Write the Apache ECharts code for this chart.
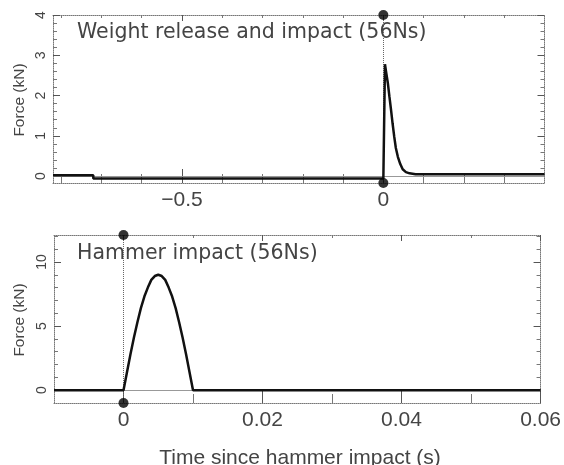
<!DOCTYPE html>
<html><head><meta charset="utf-8">
<script src="https://cdn.jsdelivr.net/npm/echarts@6/dist/echarts.min.js"></script>
<style>html,body{margin:0;padding:0;background:#fff}#c{width:564px;height:465px}</style>
</head><body><div id="c"></div>
<script>
// ---- Top panel: weight release and impact ----
const topTime  = [-0.82, -0.72, -0.72, 0, 0.004, 0.0066, 0.011, 0.015, 0.019, 0.023, 0.027, 0.031, 0.036, 0.042, 0.048, 0.056, 0.065, 0.08, 0.4];
const topForce = [0.02, 0.02, -0.06, -0.06, 2.78, 2.6, 2.32, 1.98, 1.65, 1.3, 0.98, 0.7, 0.48, 0.3, 0.17, 0.1, 0.07, 0.05, 0.05];
const topXTicks = [-0.5, 0];
const topYTicks = [0, 1, 2, 3, 4];
const topMarkers = [[0, 4], [0, -0.17]];

// ---- Bottom panel: hammer impact ----
const botTime  = [-0.01, 0, 0.0005, 0.001, 0.0015, 0.002, 0.0025, 0.003, 0.0035, 0.004, 0.0045, 0.005,
                  0.0055, 0.006, 0.0065, 0.007, 0.0075, 0.008, 0.0085, 0.009, 0.0095, 0.01, 0.06];
const botForce = [0, 0, 1.4, 2.8, 4.1, 5.3, 6.4, 7.3, 8.0, 8.6, 8.9, 9.0,
                  8.9, 8.6, 8.0, 7.3, 6.4, 5.3, 4.1, 2.8, 1.4, 0, 0];
const botXTicks = [0, 0.02, 0.04, 0.06];
const botYTicks = [0, 5, 10];
const botMarkers = [[0, 12.1], [0, -1]];

const titles = ['Weight release and impact (56Ns)', 'Hammer impact (56Ns)'];
const xName = 'Time since hammer impact (s)';
const yName = 'Force (kN)';

const FONT = 'Liberation Sans';
const TFONT = 'DejaVu Sans';
const TXT = '#444';
const zip = (a, b) => a.map((v, i) => [v, b[i]]);
const fmt = v => String(v).replace('-', '\u2212');
const frame = {show: true, onZero: false, lineStyle: {color: '#777', width: 1, type: 'dotted'}};

function xAx(g, min, max, step, minorSplit, ticks, main) {
  return {
    gridIndex: g, type: 'value', position: main ? 'bottom' : 'top',
    min: min, max: max, minInterval: step, maxInterval: step, splitNumber: 3,
    axisLine: frame, splitLine: {show: false},
    axisTick: {show: true, inside: true, length: main ? 14 : 6, customValues: ticks, lineStyle: {color: '#555'}},
    minorTick: {show: true, splitNumber: minorSplit, length: main ? 9 : 3, lineStyle: {color: '#777'}},
    axisLabel: {show: main, customValues: ticks, formatter: fmt, fontSize: 21, margin: 7, color: TXT, fontFamily: FONT}
  };
}
function yAx(g, min, max, step, minorSplit, ticks, main) {
  return {
    gridIndex: g, type: 'value', position: main ? 'left' : 'right',
    min: min, max: max, minInterval: step, maxInterval: step, splitNumber: 3,
    axisLine: frame, splitLine: {show: false},
    axisTick: {show: true, inside: true, length: 7, customValues: ticks, lineStyle: {color: '#555'}},
    minorTick: {show: true, splitNumber: minorSplit, length: 4, lineStyle: {color: '#777'}},
    axisLabel: {show: main, customValues: ticks, formatter: fmt, rotate: 90, fontSize: 14, margin: 5, color: TXT, fontFamily: FONT}
  };
}
function refSeries(xi, yi) {
  return {
    type: 'line', xAxisIndex: xi, yAxisIndex: yi, data: [], z: 1,
    markLine: {silent: true, symbol: 'none', z: 1, label: {show: false}, animation: false,
      data: [
        {yAxis: 0, lineStyle: {color: '#999', type: 'solid', width: 1}},
        {xAxis: 0, lineStyle: {color: '#666', type: 'dotted', width: 1}}
      ]}
  };
}
function dataSeries(xi, yi, xs, ys) {
  return {type: 'line', xAxisIndex: xi, yAxisIndex: yi, data: zip(xs, ys), showSymbol: false, z: 3,
    lineStyle: {color: '#111', width: 2.5}, animation: false};
}
function dots(xi, yi, pts) {
  return {type: 'scatter', xAxisIndex: xi, yAxisIndex: yi, data: pts, symbolSize: 10, clip: false, z: 10,
    itemStyle: {color: '#000'}, animation: false};
}

const chart = echarts.init(document.getElementById('c'), null, {renderer: 'canvas'});
chart.setOption({
  animation: false,
  backgroundColor: '#fff',
  grid: [
    {left: 53, top: 15, width: 491.5, height: 168, containLabel: false},
    {left: 54, top: 235, width: 487.5, height: 168, containLabel: false}
  ],
  xAxis: [
    xAx(0, -0.82, 0.4, 0.5, 5, topXTicks, true),
    xAx(0, -0.82, 0.4, 0.5, 5, topXTicks, false),
    xAx(1, -0.01, 0.06, 0.02, 2, botXTicks, true),
    xAx(1, -0.01, 0.06, 0.02, 2, botXTicks, false)
  ],
  yAxis: [
    yAx(0, -0.17, 4, 1, 5, topYTicks, true),
    yAx(0, -0.17, 4, 1, 5, topYTicks, false),
    yAx(1, -1, 12.1, 5, 5, botYTicks, true),
    yAx(1, -1, 12.1, 5, 5, botYTicks, false)
  ],
  series: [
    refSeries(0, 0),
    dataSeries(0, 0, topTime, topForce),
    dots(0, 0, topMarkers),
    refSeries(2, 2),
    dataSeries(2, 2, botTime, botForce),
    dots(2, 2, botMarkers)
  ],
  graphic: [
    {type: 'text', x: 77, y: 33, style: {text: titles[0], fontSize: 20.5, fontFamily: TFONT, fill: TXT, textVerticalAlign: 'middle'}},
    {type: 'text', x: 77, y: 254, style: {text: titles[1], fontSize: 20.5, fontFamily: TFONT, fill: TXT, textVerticalAlign: 'middle'}},
    {type: 'text', x: 300, y: 458, style: {text: xName, fontSize: 21, fontFamily: FONT, fill: TXT, textAlign: 'center', textVerticalAlign: 'middle'}},
    {type: 'text', x: 20, y: 100, rotation: Math.PI / 2, style: {text: yName, fontSize: 15.5, fontFamily: FONT, fill: TXT, textAlign: 'center', textVerticalAlign: 'middle'}},
    {type: 'text', x: 20, y: 320, rotation: Math.PI / 2, style: {text: yName, fontSize: 15.5, fontFamily: FONT, fill: TXT, textAlign: 'center', textVerticalAlign: 'middle'}}
  ]
});
</script></body></html>
